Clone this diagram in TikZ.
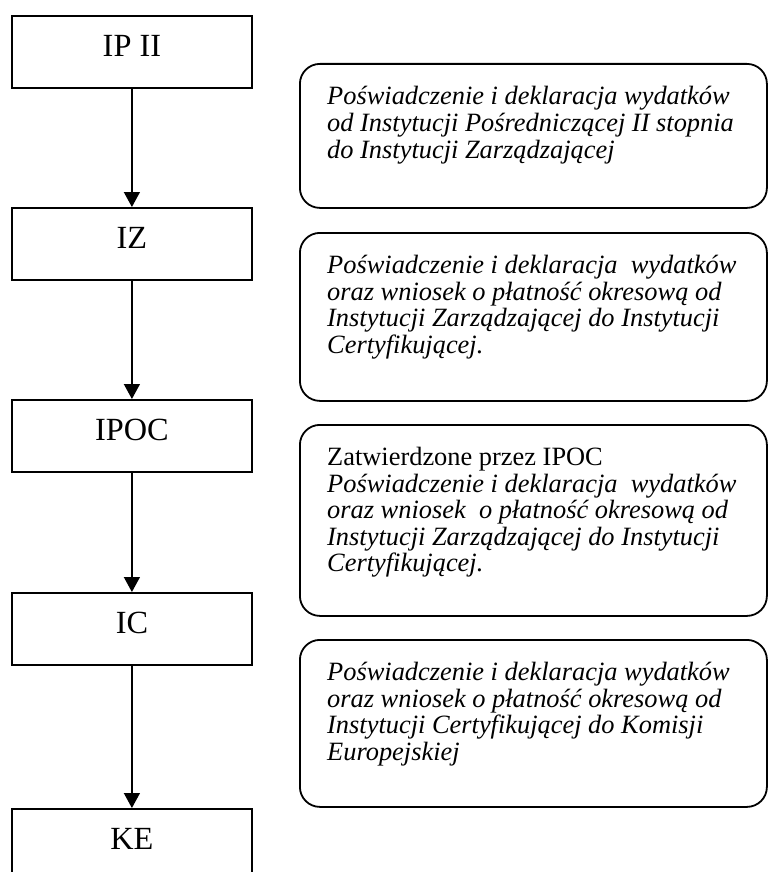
\documentclass[tikz,border=0pt]{standalone}
\usepackage{fontspec}
\setmainfont{Liberation Serif}
\usetikzlibrary{arrows.meta,calc}
\newcommand{\rtextfont}{\fontsize{26.4}{26.6}\selectfont}
\begin{document}
\begin{tikzpicture}[x=1pt,y=-1pt,
  lbox/.style={draw, line width=1.8pt, minimum width=240pt, inner sep=0pt,
    text height=41pt, text depth=31pt, anchor=north west,
    font=\fontsize{32.3}{36}\selectfont},
  rbox/.style={draw, line width=1.8pt, rounded corners=20pt,
    minimum width=467pt, anchor=north west, inner sep=0pt},
  txt/.style={anchor=base west, inner sep=0pt},
  flow/.style={-{Triangle[length=15pt,width=16pt]}, line width=1.5pt}]
\clip (0,0) rectangle (768,872);
% left boxes
\node[lbox] (ip) at (11,15) {IP II};
\node[lbox] (iz) at (11,207) {IZ};
\node[lbox] (ipoc) at (11,399) {IPOC};
\node[lbox] (ic) at (11,592) {IC};
\node[lbox] (ke) at (11,808) {KE};
\draw[flow] (ip.south) -- (iz.north);
\draw[flow] (iz.south) -- (ipoc.north);
\draw[flow] (ipoc.south) -- (ic.north);
\draw[flow] (ic.south) -- (ke.north);
% rounded boxes
\node[rbox, minimum height=144pt] (r1) at (299,63) {};
\node[rbox, minimum height=168pt] (r2) at (299,232) {};
\node[rbox, minimum height=191pt] (r3) at (299,424) {};
\node[rbox, minimum height=167pt] (r4) at (299,639) {};
\node[txt] (t1) at ($(r1.north west)+(28,42)$) {\parbox[t]{460pt}{\rtextfont\itshape
Poświadczenie i deklaracja wydatków\\
od Instytucji Pośredniczącej II stopnia\\
do Instytucji Zarządzającej}};
\node[txt] (t2) at ($(r2.north west)+(28,41.5)$) {\parbox[t]{460pt}{\rtextfont\itshape
Poświadczenie i deklaracja\ \ wydatków\\
oraz wniosek o płatność okresową od\\
Instytucji Zarządzającej do Instytucji\\
Certyfikującej.}};
\node[txt] (t3) at ($(r3.north west)+(28,41.5)$) {\parbox[t]{460pt}{\rtextfont
Zatwierdzone przez IPOC\\
\itshape Poświadczenie i deklaracja\ \ wydatków\\
oraz wniosek\ \ o płatność okresową od\\
Instytucji Zarządzającej do Instytucji\\
Certyfikującej.}};
\node[txt] (t4) at ($(r4.north west)+(28,41.5)$) {\parbox[t]{460pt}{\rtextfont\itshape
Poświadczenie i deklaracja wydatków\\
oraz wniosek o płatność okresową od\\
Instytucji Certyfikującej do Komisji\\
Europejskiej}};
\end{tikzpicture}
\end{document}
